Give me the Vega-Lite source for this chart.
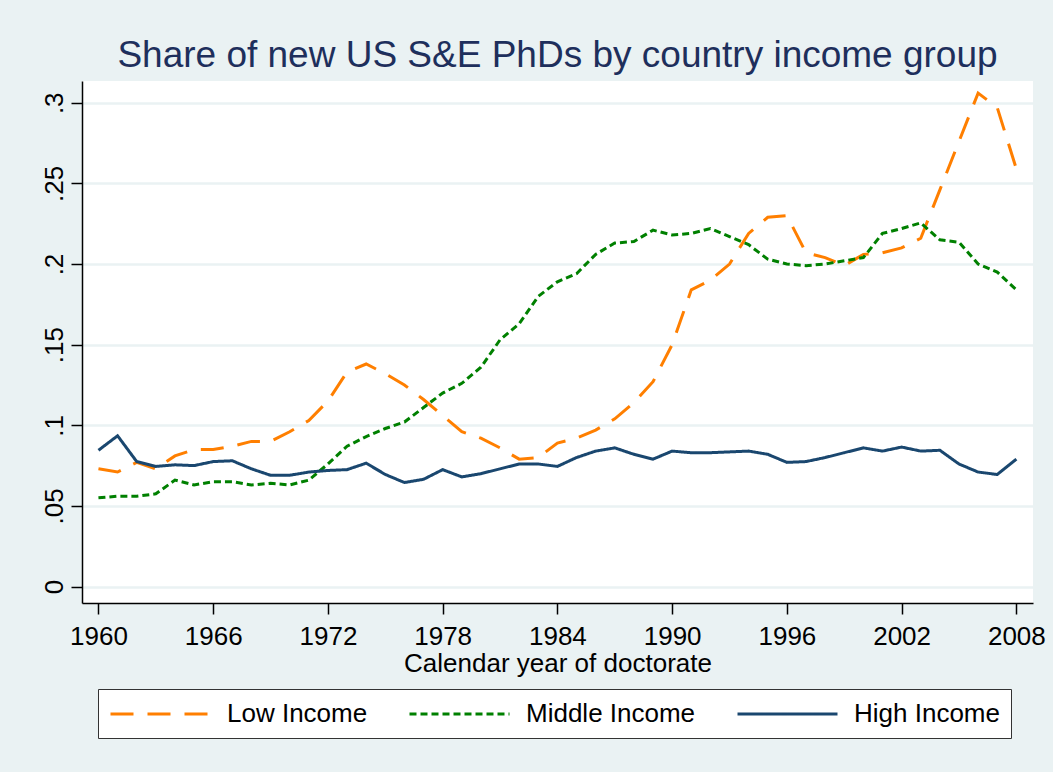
{
  "$schema": "https://vega.github.io/schema/vega-lite/v6.json",
  "width": 951,
  "height": 522,
  "autosize": {"type": "none"},
  "padding": {"left": 82, "top": 81, "right": 20, "bottom": 169},
  "background": "#EAF2F3",
  "title": {
    "text": "Share of new US S&E PhDs by country income group",
    "fontSize": 37,
    "font": "Liberation Sans",
    "fontWeight": "normal",
    "color": "#1E2F5C",
    "anchor": "middle",
    "frame": "group",
    "baseline": "alphabetic",
    "offset": -23
  },
  "config": {
    "view": {"fill": "white", "stroke": null},
    "font": "Liberation Sans"
  },
  "data": {
    "values": [
      {"year": 1960, "group": "Low Income", "share": 0.073},
      {"year": 1961, "group": "Low Income", "share": 0.071},
      {"year": 1962, "group": "Low Income", "share": 0.077},
      {"year": 1963, "group": "Low Income", "share": 0.073},
      {"year": 1964, "group": "Low Income", "share": 0.081},
      {"year": 1965, "group": "Low Income", "share": 0.085},
      {"year": 1966, "group": "Low Income", "share": 0.085},
      {"year": 1967, "group": "Low Income", "share": 0.087},
      {"year": 1968, "group": "Low Income", "share": 0.090},
      {"year": 1969, "group": "Low Income", "share": 0.090},
      {"year": 1970, "group": "Low Income", "share": 0.096},
      {"year": 1971, "group": "Low Income", "share": 0.103},
      {"year": 1972, "group": "Low Income", "share": 0.115},
      {"year": 1973, "group": "Low Income", "share": 0.133},
      {"year": 1974, "group": "Low Income", "share": 0.138},
      {"year": 1975, "group": "Low Income", "share": 0.132},
      {"year": 1976, "group": "Low Income", "share": 0.125},
      {"year": 1977, "group": "Low Income", "share": 0.116},
      {"year": 1978, "group": "Low Income", "share": 0.106},
      {"year": 1979, "group": "Low Income", "share": 0.096},
      {"year": 1980, "group": "Low Income", "share": 0.092},
      {"year": 1981, "group": "Low Income", "share": 0.086},
      {"year": 1982, "group": "Low Income", "share": 0.079},
      {"year": 1983, "group": "Low Income", "share": 0.080},
      {"year": 1984, "group": "Low Income", "share": 0.089},
      {"year": 1985, "group": "Low Income", "share": 0.092},
      {"year": 1986, "group": "Low Income", "share": 0.097},
      {"year": 1987, "group": "Low Income", "share": 0.104},
      {"year": 1988, "group": "Low Income", "share": 0.114},
      {"year": 1989, "group": "Low Income", "share": 0.127},
      {"year": 1990, "group": "Low Income", "share": 0.150},
      {"year": 1991, "group": "Low Income", "share": 0.184},
      {"year": 1992, "group": "Low Income", "share": 0.190},
      {"year": 1993, "group": "Low Income", "share": 0.200},
      {"year": 1994, "group": "Low Income", "share": 0.219},
      {"year": 1995, "group": "Low Income", "share": 0.229},
      {"year": 1996, "group": "Low Income", "share": 0.230},
      {"year": 1997, "group": "Low Income", "share": 0.207},
      {"year": 1998, "group": "Low Income", "share": 0.204},
      {"year": 1999, "group": "Low Income", "share": 0.199},
      {"year": 2000, "group": "Low Income", "share": 0.206},
      {"year": 2001, "group": "Low Income", "share": 0.207},
      {"year": 2002, "group": "Low Income", "share": 0.210},
      {"year": 2003, "group": "Low Income", "share": 0.216},
      {"year": 2004, "group": "Low Income", "share": 0.246},
      {"year": 2005, "group": "Low Income", "share": 0.276},
      {"year": 2006, "group": "Low Income", "share": 0.306},
      {"year": 2007, "group": "Low Income", "share": 0.297},
      {"year": 2008, "group": "Low Income", "share": 0.259},
      {"year": 1960, "group": "Middle Income", "share": 0.055},
      {"year": 1961, "group": "Middle Income", "share": 0.056},
      {"year": 1962, "group": "Middle Income", "share": 0.056},
      {"year": 1963, "group": "Middle Income", "share": 0.0575},
      {"year": 1964, "group": "Middle Income", "share": 0.066},
      {"year": 1965, "group": "Middle Income", "share": 0.063},
      {"year": 1966, "group": "Middle Income", "share": 0.065},
      {"year": 1967, "group": "Middle Income", "share": 0.065},
      {"year": 1968, "group": "Middle Income", "share": 0.063},
      {"year": 1969, "group": "Middle Income", "share": 0.064},
      {"year": 1970, "group": "Middle Income", "share": 0.063},
      {"year": 1971, "group": "Middle Income", "share": 0.066},
      {"year": 1972, "group": "Middle Income", "share": 0.076},
      {"year": 1973, "group": "Middle Income", "share": 0.087},
      {"year": 1974, "group": "Middle Income", "share": 0.093},
      {"year": 1975, "group": "Middle Income", "share": 0.098},
      {"year": 1976, "group": "Middle Income", "share": 0.102},
      {"year": 1977, "group": "Middle Income", "share": 0.111},
      {"year": 1978, "group": "Middle Income", "share": 0.120},
      {"year": 1979, "group": "Middle Income", "share": 0.126},
      {"year": 1980, "group": "Middle Income", "share": 0.136},
      {"year": 1981, "group": "Middle Income", "share": 0.153},
      {"year": 1982, "group": "Middle Income", "share": 0.163},
      {"year": 1983, "group": "Middle Income", "share": 0.180},
      {"year": 1984, "group": "Middle Income", "share": 0.189},
      {"year": 1985, "group": "Middle Income", "share": 0.194},
      {"year": 1986, "group": "Middle Income", "share": 0.206},
      {"year": 1987, "group": "Middle Income", "share": 0.213},
      {"year": 1988, "group": "Middle Income", "share": 0.214},
      {"year": 1989, "group": "Middle Income", "share": 0.221},
      {"year": 1990, "group": "Middle Income", "share": 0.218},
      {"year": 1991, "group": "Middle Income", "share": 0.219},
      {"year": 1992, "group": "Middle Income", "share": 0.222},
      {"year": 1993, "group": "Middle Income", "share": 0.217},
      {"year": 1994, "group": "Middle Income", "share": 0.212},
      {"year": 1995, "group": "Middle Income", "share": 0.203},
      {"year": 1996, "group": "Middle Income", "share": 0.200},
      {"year": 1997, "group": "Middle Income", "share": 0.199},
      {"year": 1998, "group": "Middle Income", "share": 0.200},
      {"year": 1999, "group": "Middle Income", "share": 0.202},
      {"year": 2000, "group": "Middle Income", "share": 0.204},
      {"year": 2001, "group": "Middle Income", "share": 0.219},
      {"year": 2002, "group": "Middle Income", "share": 0.222},
      {"year": 2003, "group": "Middle Income", "share": 0.2255},
      {"year": 2004, "group": "Middle Income", "share": 0.215},
      {"year": 2005, "group": "Middle Income", "share": 0.2135},
      {"year": 2006, "group": "Middle Income", "share": 0.200},
      {"year": 2007, "group": "Middle Income", "share": 0.195},
      {"year": 2008, "group": "Middle Income", "share": 0.184},
      {"year": 1960, "group": "High Income", "share": 0.0845},
      {"year": 1961, "group": "High Income", "share": 0.0935},
      {"year": 1962, "group": "High Income", "share": 0.0775},
      {"year": 1963, "group": "High Income", "share": 0.0745},
      {"year": 1964, "group": "High Income", "share": 0.0755},
      {"year": 1965, "group": "High Income", "share": 0.075},
      {"year": 1966, "group": "High Income", "share": 0.0775},
      {"year": 1967, "group": "High Income", "share": 0.078},
      {"year": 1968, "group": "High Income", "share": 0.073},
      {"year": 1969, "group": "High Income", "share": 0.069},
      {"year": 1970, "group": "High Income", "share": 0.069},
      {"year": 1971, "group": "High Income", "share": 0.071},
      {"year": 1972, "group": "High Income", "share": 0.072},
      {"year": 1973, "group": "High Income", "share": 0.0725},
      {"year": 1974, "group": "High Income", "share": 0.0765},
      {"year": 1975, "group": "High Income", "share": 0.0695},
      {"year": 1976, "group": "High Income", "share": 0.0645},
      {"year": 1977, "group": "High Income", "share": 0.0665},
      {"year": 1978, "group": "High Income", "share": 0.0725},
      {"year": 1979, "group": "High Income", "share": 0.068},
      {"year": 1980, "group": "High Income", "share": 0.070},
      {"year": 1981, "group": "High Income", "share": 0.073},
      {"year": 1982, "group": "High Income", "share": 0.076},
      {"year": 1983, "group": "High Income", "share": 0.076},
      {"year": 1984, "group": "High Income", "share": 0.0745},
      {"year": 1985, "group": "High Income", "share": 0.080},
      {"year": 1986, "group": "High Income", "share": 0.084},
      {"year": 1987, "group": "High Income", "share": 0.086},
      {"year": 1988, "group": "High Income", "share": 0.082},
      {"year": 1989, "group": "High Income", "share": 0.079},
      {"year": 1990, "group": "High Income", "share": 0.084},
      {"year": 1991, "group": "High Income", "share": 0.083},
      {"year": 1992, "group": "High Income", "share": 0.083},
      {"year": 1993, "group": "High Income", "share": 0.0835},
      {"year": 1994, "group": "High Income", "share": 0.084},
      {"year": 1995, "group": "High Income", "share": 0.082},
      {"year": 1996, "group": "High Income", "share": 0.077},
      {"year": 1997, "group": "High Income", "share": 0.0775},
      {"year": 1998, "group": "High Income", "share": 0.080},
      {"year": 1999, "group": "High Income", "share": 0.083},
      {"year": 2000, "group": "High Income", "share": 0.086},
      {"year": 2001, "group": "High Income", "share": 0.084},
      {"year": 2002, "group": "High Income", "share": 0.0865},
      {"year": 2003, "group": "High Income", "share": 0.084},
      {"year": 2004, "group": "High Income", "share": 0.0845},
      {"year": 2005, "group": "High Income", "share": 0.076},
      {"year": 2006, "group": "High Income", "share": 0.071},
      {"year": 2007, "group": "High Income", "share": 0.0695},
      {"year": 2008, "group": "High Income", "share": 0.079}
    ]
  },
  "mark": {"type": "line", "strokeWidth": 3, "strokeCap": "butt"},
  "encoding": {
    "x": {
      "field": "year",
      "type": "quantitative",
      "scale": {"domain": [1959.14, 2008.87], "nice": false, "zero": false},
      "axis": {
        "values": [1960, 1966, 1972, 1978, 1984, 1990, 1996, 2002, 2008],
        "format": "d",
        "labelFontSize": 26,
        "labelFont": "Liberation Sans",
        "labelColor": "black",
        "labelPadding": 9,
        "labelFlush": false,
        "labelOverlap": false,
        "tickSize": 11,
        "tickColor": "black",
        "tickWidth": 1.5,
        "domainColor": "black",
        "domainWidth": 1.5,
        "grid": false,
        "title": "Calendar year of doctorate",
        "titleFont": "Liberation Sans",
        "titleFontSize": 26,
        "titleFontWeight": "normal",
        "titleColor": "black",
        "titlePadding": 1
      }
    },
    "y": {
      "field": "share",
      "type": "quantitative",
      "scale": {"domain": [-0.0102, 0.3135], "nice": false, "zero": false},
      "axis": {
        "values": [0, 0.05, 0.1, 0.15, 0.2, 0.25, 0.3],
        "labelExpr": "datum.value == 0 ? '0' : substring(format(datum.value, '.2~f'), 1)",
        "labelAngle": -90,
        "labelAlign": "center",
        "labelBaseline": "alphabetic",
        "labelPadding": 9,
        "labelFontSize": 26,
        "labelFont": "Liberation Sans",
        "labelColor": "black",
        "labelOverlap": false,
        "labelFlush": false,
        "tickSize": 11,
        "tickColor": "black",
        "tickWidth": 1.5,
        "domainColor": "black",
        "domainWidth": 1.5,
        "grid": true,
        "gridColor": "#EAF2F3",
        "gridWidth": 2.5,
        "title": null
      }
    },
    "color": {
      "field": "group",
      "type": "nominal",
      "scale": {
        "domain": ["Low Income", "Middle Income", "High Income"],
        "range": ["#FF7F00", "#008000", "#1A476F"]
      },
      "legend": {
        "title": null,
        "orient": "none",
        "legendX": 16,
        "legendY": 608,
        "direction": "horizontal",
        "columns": 3,
        "columnPadding": 35,
        "padding": 11,
        "strokeColor": "#333333",
        "fillColor": "white",
        "labelFontSize": 26,
        "labelFont": "Liberation Sans",
        "labelColor": "black",
        "labelLimit": 400,
        "symbolType": "M-1,0H7",
        "symbolSize": 625,
        "symbolStrokeWidth": 3,
        "labelOffset": 90
      }
    },
    "strokeDash": {
      "field": "group",
      "type": "nominal",
      "scale": {
        "domain": ["Low Income", "Middle Income", "High Income"],
        "range": [[23, 14], [7, 4], [1, 0]]
      },
      "legend": {
        "title": null,
        "orient": "none",
        "legendX": 16,
        "legendY": 608,
        "direction": "horizontal",
        "columns": 3,
        "columnPadding": 35,
        "padding": 11,
        "strokeColor": "#333333",
        "fillColor": "white",
        "labelFontSize": 26,
        "labelFont": "Liberation Sans",
        "labelColor": "black",
        "labelLimit": 400,
        "symbolType": "M-1,0H7",
        "symbolSize": 625,
        "symbolStrokeWidth": 3,
        "labelOffset": 90
      }
    }
  }
}
